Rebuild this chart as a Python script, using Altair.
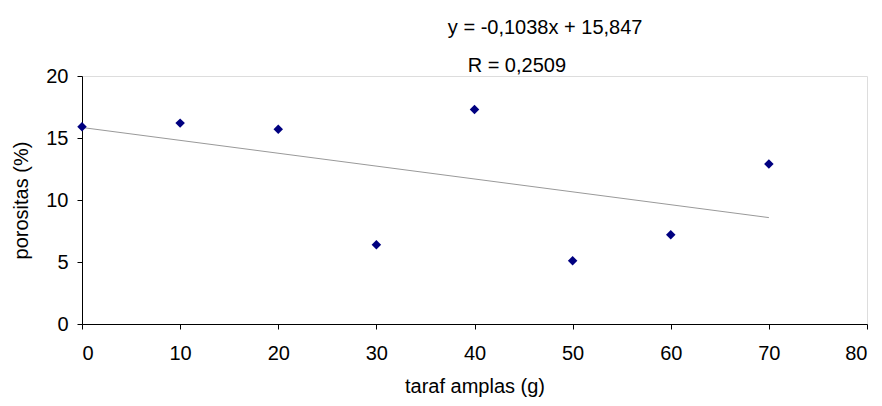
import altair as alt
import pandas as pd

# data
taraf = [0, 10, 20, 30, 40, 50, 60, 70]
porositas = [15.9, 16.2, 15.7, 6.4, 17.3, 5.1, 7.2, 12.9]

trend_x = [0, 70]
trend_y = [15.847, 8.581]

label_text = ["y = -0,1038x + 15,847", "R = 0,2509"]
label_x = [47.2, 39.3]
label_y = [23.9, 20.8]
label_align = ["center", "left"]

pts = pd.DataFrame({"x": taraf, "y": porositas})
trend = pd.DataFrame({"x": trend_x, "y": trend_y})
labels = pd.DataFrame({"x": label_x, "y": label_y, "t": label_text, "a": label_align})

FONT = "Liberation Sans"
FS = 20

xscale = alt.Scale(domain=[0, 80], nice=False, zero=False)
yscale = alt.Scale(domain=[0, 20], nice=False, zero=False)

xaxis = alt.Axis(values=[0, 10, 20, 30, 40, 50, 60, 70, 80], grid=False,
                 domainColor="black", tickColor="black", tickSize=5,
                 labelFontSize=FS, labelColor="black", labelFont=FONT, labelPadding=14,
                 title="taraf amplas (g)", titleFontSize=FS, titleFont=FONT,
                 titleFontWeight="normal", titleColor="black", titlePadding=13)
yaxis = alt.Axis(values=[0, 5, 10, 15, 20], grid=False,
                 domainColor="black", tickColor="black", tickSize=5,
                 labelFontSize=FS, labelColor="black", labelFont=FONT, labelPadding=9,
                 title="porositas (%)", titleFontSize=FS, titleFont=FONT,
                 titleFontWeight="normal", titleColor="black", titlePadding=14)

line = alt.Chart(trend).mark_line(color="#999999", strokeWidth=1).encode(
    x=alt.X("x:Q", scale=xscale, axis=xaxis),
    y=alt.Y("y:Q", scale=yscale, axis=yaxis),
)

points = alt.Chart(pts).mark_point(shape="diamond", filled=True, color="#000080",
                                   size=90, opacity=1).encode(
    x=alt.X("x:Q", scale=xscale),
    y=alt.Y("y:Q", scale=yscale),
)

text_c = alt.Chart(labels[labels.a == "center"]).mark_text(
    align="center", baseline="middle", fontSize=FS, font=FONT, color="black", clip=False
).encode(x=alt.X("x:Q", scale=xscale), y=alt.Y("y:Q", scale=yscale), text="t:N")

text_l = alt.Chart(labels[labels.a == "left"]).mark_text(
    align="left", baseline="middle", fontSize=FS, font=FONT, color="black", clip=False
).encode(x=alt.X("x:Q", scale=xscale), y=alt.Y("y:Q", scale=yscale), text="t:N")

chart = alt.layer(line, points, text_c, text_l).properties(
    width=785, height=248,
    autosize=alt.AutoSizeParams(type="none"),
    padding={"left": 74, "top": 68, "right": 7, "bottom": 74},
).configure_view(stroke=None).configure(background="white")

chart.save("out.html", embed_options={"renderer": "svg", "actions": False})
